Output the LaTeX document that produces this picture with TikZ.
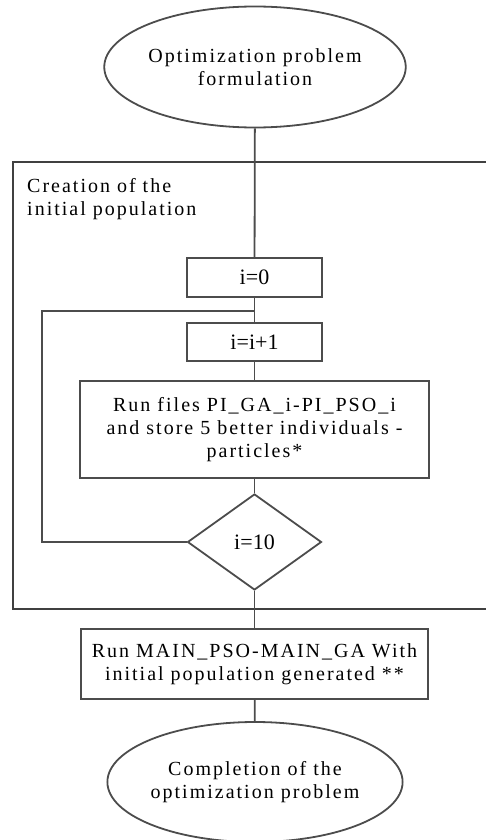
\documentclass[tikz,border=0pt]{standalone}
\usepackage{fontspec}
\setmainfont{Liberation Serif}
\newfontfamily\widefont{Liberation Serif}[LetterSpace=10]
\usetikzlibrary{shapes.geometric}

\tikzset{
  flowline/.style={line width=1.8pt, draw=black!70},
  bigtext/.style={font=\widefont\fontsize{20}{23}\selectfont},
  smalltext/.style={font=\fontsize{22}{24}\selectfont},
  termbox/.style={ellipse, flowline, bigtext, align=center, inner sep=0pt},
  procbox/.style={rectangle, flowline, align=center, inner sep=0pt},
  testbox/.style={diamond, flowline, smalltext, inner sep=0pt}
}

\begin{document}
\begin{tikzpicture}[x=1pt,y=-1pt]
\useasboundingbox (0,0) rectangle (486,840);
% frame of the initialisation block
\draw[line width=2pt, black!75] (486,162)--(13,162)--(13,609)--(486,609);
\node[bigtext, align=left, anchor=north west, inner sep=0pt] (poptitle) at (27,178) {Creation of the\\initial population};

\node[termbox, minimum width=270pt, minimum height=121pt] (start) at (255,67) {Optimization problem\\formulation};
\node[procbox, smalltext, minimum width=135pt, minimum height=39pt] (init) at (254.5,277.5) {i=0};
\node[procbox, smalltext, minimum width=135pt, minimum height=38pt] (incr) at (254.5,342) {i=i+1};
\node[procbox, bigtext, minimum width=349pt, minimum height=97pt] (run) at (254.5,429.5) {Run files PI\_GA\_i-PI\_PSO\_i\\and store 5 better individuals -\\particles*};
\node[testbox, minimum width=134pt, minimum height=96pt] (test) at (254.5,542) {i=10};
\node[procbox, bigtext, minimum width=347pt, minimum height=70pt] (main) at (254.5,664) {Run MAIN\_PSO-MAIN\_GA With\\initial population generated **};
\node[termbox, minimum width=272pt, minimum height=120pt] (stop) at (255,782) {Completion of the\\optimization problem};

\coordinate (join) at (254.5,311);
\coordinate (back) at (42,311);

\draw[flowline] (start) -- (init);
\draw[flowline] (init) -- (incr);
\draw[flowline] (incr) -- (run);
\draw[flowline] (run) -- (test);
\draw[flowline] (test) -- (main);
\draw[flowline] (main) -- (stop);
\draw[flowline] (test.west) -| (back) -- (join);
\end{tikzpicture}
\end{document}
